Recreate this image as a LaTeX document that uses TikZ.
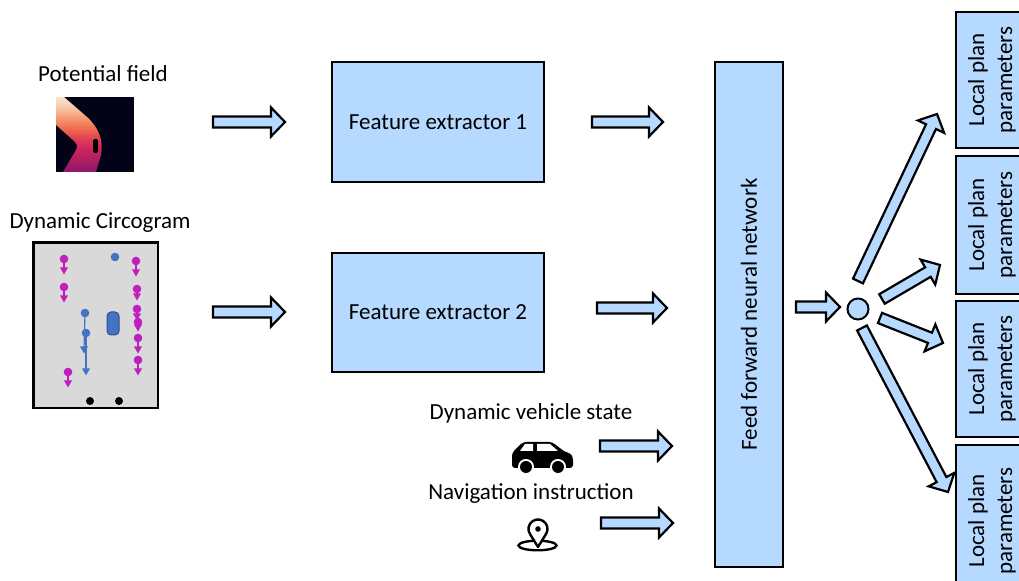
\documentclass[tikz,border=0pt]{standalone}
\usepackage{fontspec}
\setmainfont{Carlito}
\usetikzlibrary{calc}
\usepackage{tkz-euclide}
\definecolor{BoxClr}{rgb}{0.71,0.85,1}
\definecolor{FieldBg}{rgb}{0.01,0.01,0.09}
\definecolor{CircoClr}{rgb}{0.85,0.85,0.85}
\definecolor{AgentClr}{rgb}{0.75,0.12,0.75}
\definecolor{EgoClr}{rgb}{0.27,0.45,0.77}

% Διαβάθμιση για το πεδίο δυναμικού (ορατή περιοχή 25bp--75bp)
\pgfdeclareverticalshading{fieldshade}{100bp}{%
  rgb(0bp)=(0.55,0.09,0.42); rgb(25bp)=(0.55,0.09,0.42); rgb(40bp)=(0.80,0.14,0.36);
  rgb(47bp)=(0.88,0.24,0.33); rgb(54bp)=(0.94,0.42,0.31); rgb(61bp)=(0.96,0.60,0.44);
  rgb(68bp)=(0.97,0.78,0.66); rgb(75bp)=(0.98,0.90,0.82); rgb(100bp)=(0.98,0.90,0.82)}

% Βέλος-μπλοκ από το #1 στο #2
\newcommand\BlockArrow[2]{%
  \coordinate (#2-h) at ($(#2)!7pt!(#1)$);
  \filldraw[fatarrow] ($(#1)!2.75pt!90:(#2)$) -- ($(#2-h)!2.75pt!90:(#2)$)
    -- ($(#2-h)!7.25pt!90:(#2)$) -- (#2) -- ($(#2-h)!7.25pt!-90:(#2)$)
    -- ($(#2-h)!2.75pt!-90:(#2)$) -- ($(#1)!2.75pt!-90:(#2)$) -- cycle;}

\begin{document}
\begin{tikzpicture}[x=0.5pt,y=-0.5pt,font=\fontsize{11.5}{14}\selectfont,
  box/.style={draw,line width=1pt,fill=BoxClr,inner sep=0pt},
  lpbox/.style={box,rotate=90,align=center,minimum height=36pt},
  fatarrow/.style={draw,line width=1.1pt,fill=BoxClr,line join=miter}]
\useasboundingbox (0,0) rectangle (1019,581);

% Πεδίο δυναμικού
\node[anchor=base] (pftitle) at (103,82) {Potential field};
\fill[FieldBg] (56,97) rectangle (134,172);
\shade[shading=fieldshade]
  (56,97) -- (64,97) -- (87,117) .. controls (98,127) and (104,140) .. (101,155)
  -- (96,172) -- (63,172) -- (76,150) .. controls (78,146) and (77,144) .. (74,141)
  -- (56,125) -- cycle;
\fill[black,rounded corners=1pt] (93,139) rectangle (98,153);

% Κυκλόγραμμα
\node[anchor=base] (dctitle) at (100,229) {Dynamic Circogram};
\filldraw[fill=CircoClr,line width=1.3pt] (33.5,242.5) rectangle (158,408);
\foreach \x/\y/\t in {64/259/271,64/287/299,68/372/384,136/261/273,137/289/297,
    137/309/317,138/322/328,138/338/350,138/360/372}{
  \draw[AgentClr,line width=0.6pt] (\x,\y) -- (\x,\t);
  \fill[AgentClr] (\x-4,\t-3.5) -- (\x+4,\t-3.5) -- (\x,\t+3.5) -- cycle;
  \fill[AgentClr] (\x,\y) circle[radius=4.3];
}
\draw[EgoClr,line width=0.6pt] (85,313) -- (84,350);
\draw[EgoClr,line width=0.6pt] (86,333) -- (86,372);
\fill[EgoClr] (80,346.5) -- (88,346.5) -- (84,353.5) -- cycle;
\fill[EgoClr] (82,368.5) -- (90,368.5) -- (86,375.5) -- cycle;
\fill[EgoClr] (115,257) circle[radius=4.3];
\fill[EgoClr] (85,313) circle[radius=4.3];
\fill[EgoClr] (86,333) circle[radius=4.3];
\filldraw[fill=EgoClr,draw=EgoClr!70!black,line width=0.5pt,rounded corners=2pt]
  (107,312) rectangle (119,335);
\fill (90,401) circle[radius=4];
\fill (119,401) circle[radius=4];

% Κουτιά
\node[box,minimum width=106pt,minimum height=60pt] (fe1) at (438,122) {Feature extractor 1};
\node[box,minimum width=106pt,minimum height=59.5pt] (fe2) at (438,312.5) {Feature extractor 2};
\node[box,rotate=90,minimum width=252.5pt,minimum height=34pt] (ffnn) at (749,314.5)
  {Feed forward neural network};
\node[circle,draw,line width=1pt,fill=BoxClr,minimum size=10.5pt,inner sep=0pt] (join) at (858,309) {};

\node[lpbox,minimum width=68pt] (lp1) at (992,80) {Local plan\\parameters};
\node[lpbox,minimum width=69pt] (lp2) at (992,225) {Local plan\\parameters};
\node[lpbox,minimum width=68pt] (lp3) at (992,369) {Local plan\\parameters};
\node[lpbox,minimum width=76pt] (lp4) at (992,521) {Local plan\\parameters};

% Κατάσταση οχήματος και οδηγία
\node[anchor=base] (vstate) at (531,420) {Dynamic vehicle state};
\node[anchor=base] (navi) at (531,500) {Navigation instruction};

\fill[black,rounded corners=1.5pt] (512,468) -- (512,453) -- (523,442) -- (552,442)
  -- (565,452) -- (570,453) -- (573,457) -- (573,468) -- cycle;
\fill[white] (520,451) -- (525,444) -- (533,444) -- (533,451) -- cycle;
\fill[white] (537,444) -- (550,444) -- (558,451) -- (537,451) -- cycle;
\fill[white] (526,467) circle[radius=8];
\fill[white] (558,467) circle[radius=8];
\fill[black] (526,467) circle[radius=6];
\fill[black] (558,467) circle[radius=6];

\draw[line width=1.2pt] (537.5,545.5) ellipse[x radius=19,y radius=4.8];
\filldraw[fill=white,line width=1.2pt,line join=round] (538,547) -- (530.2,534.4)
  arc[start angle=145,end angle=395,radius=9.5] -- cycle;
\fill (538,529) circle[radius=2.8];

% Βέλη
\tkzDefPoints{213/122/S1,285/122/E1,592/122/S2,663/122/E2,213/312/S3,285/312/E3,
  597/308/S4,667/308/E4,600/446/S5,672/446/E5,601/523/S6,673/523/E6,796/307/S7,840/307/E7}
\tkzDefPoints{858/281/S8,937/114/E8,882/299/S9,940/265/E9,880/318/S10,943/343/E10,
  862/328/S11,948/492/E11}
\foreach \i in {1,...,11}{\BlockArrow{S\i}{E\i}}

\end{tikzpicture}
\end{document}
